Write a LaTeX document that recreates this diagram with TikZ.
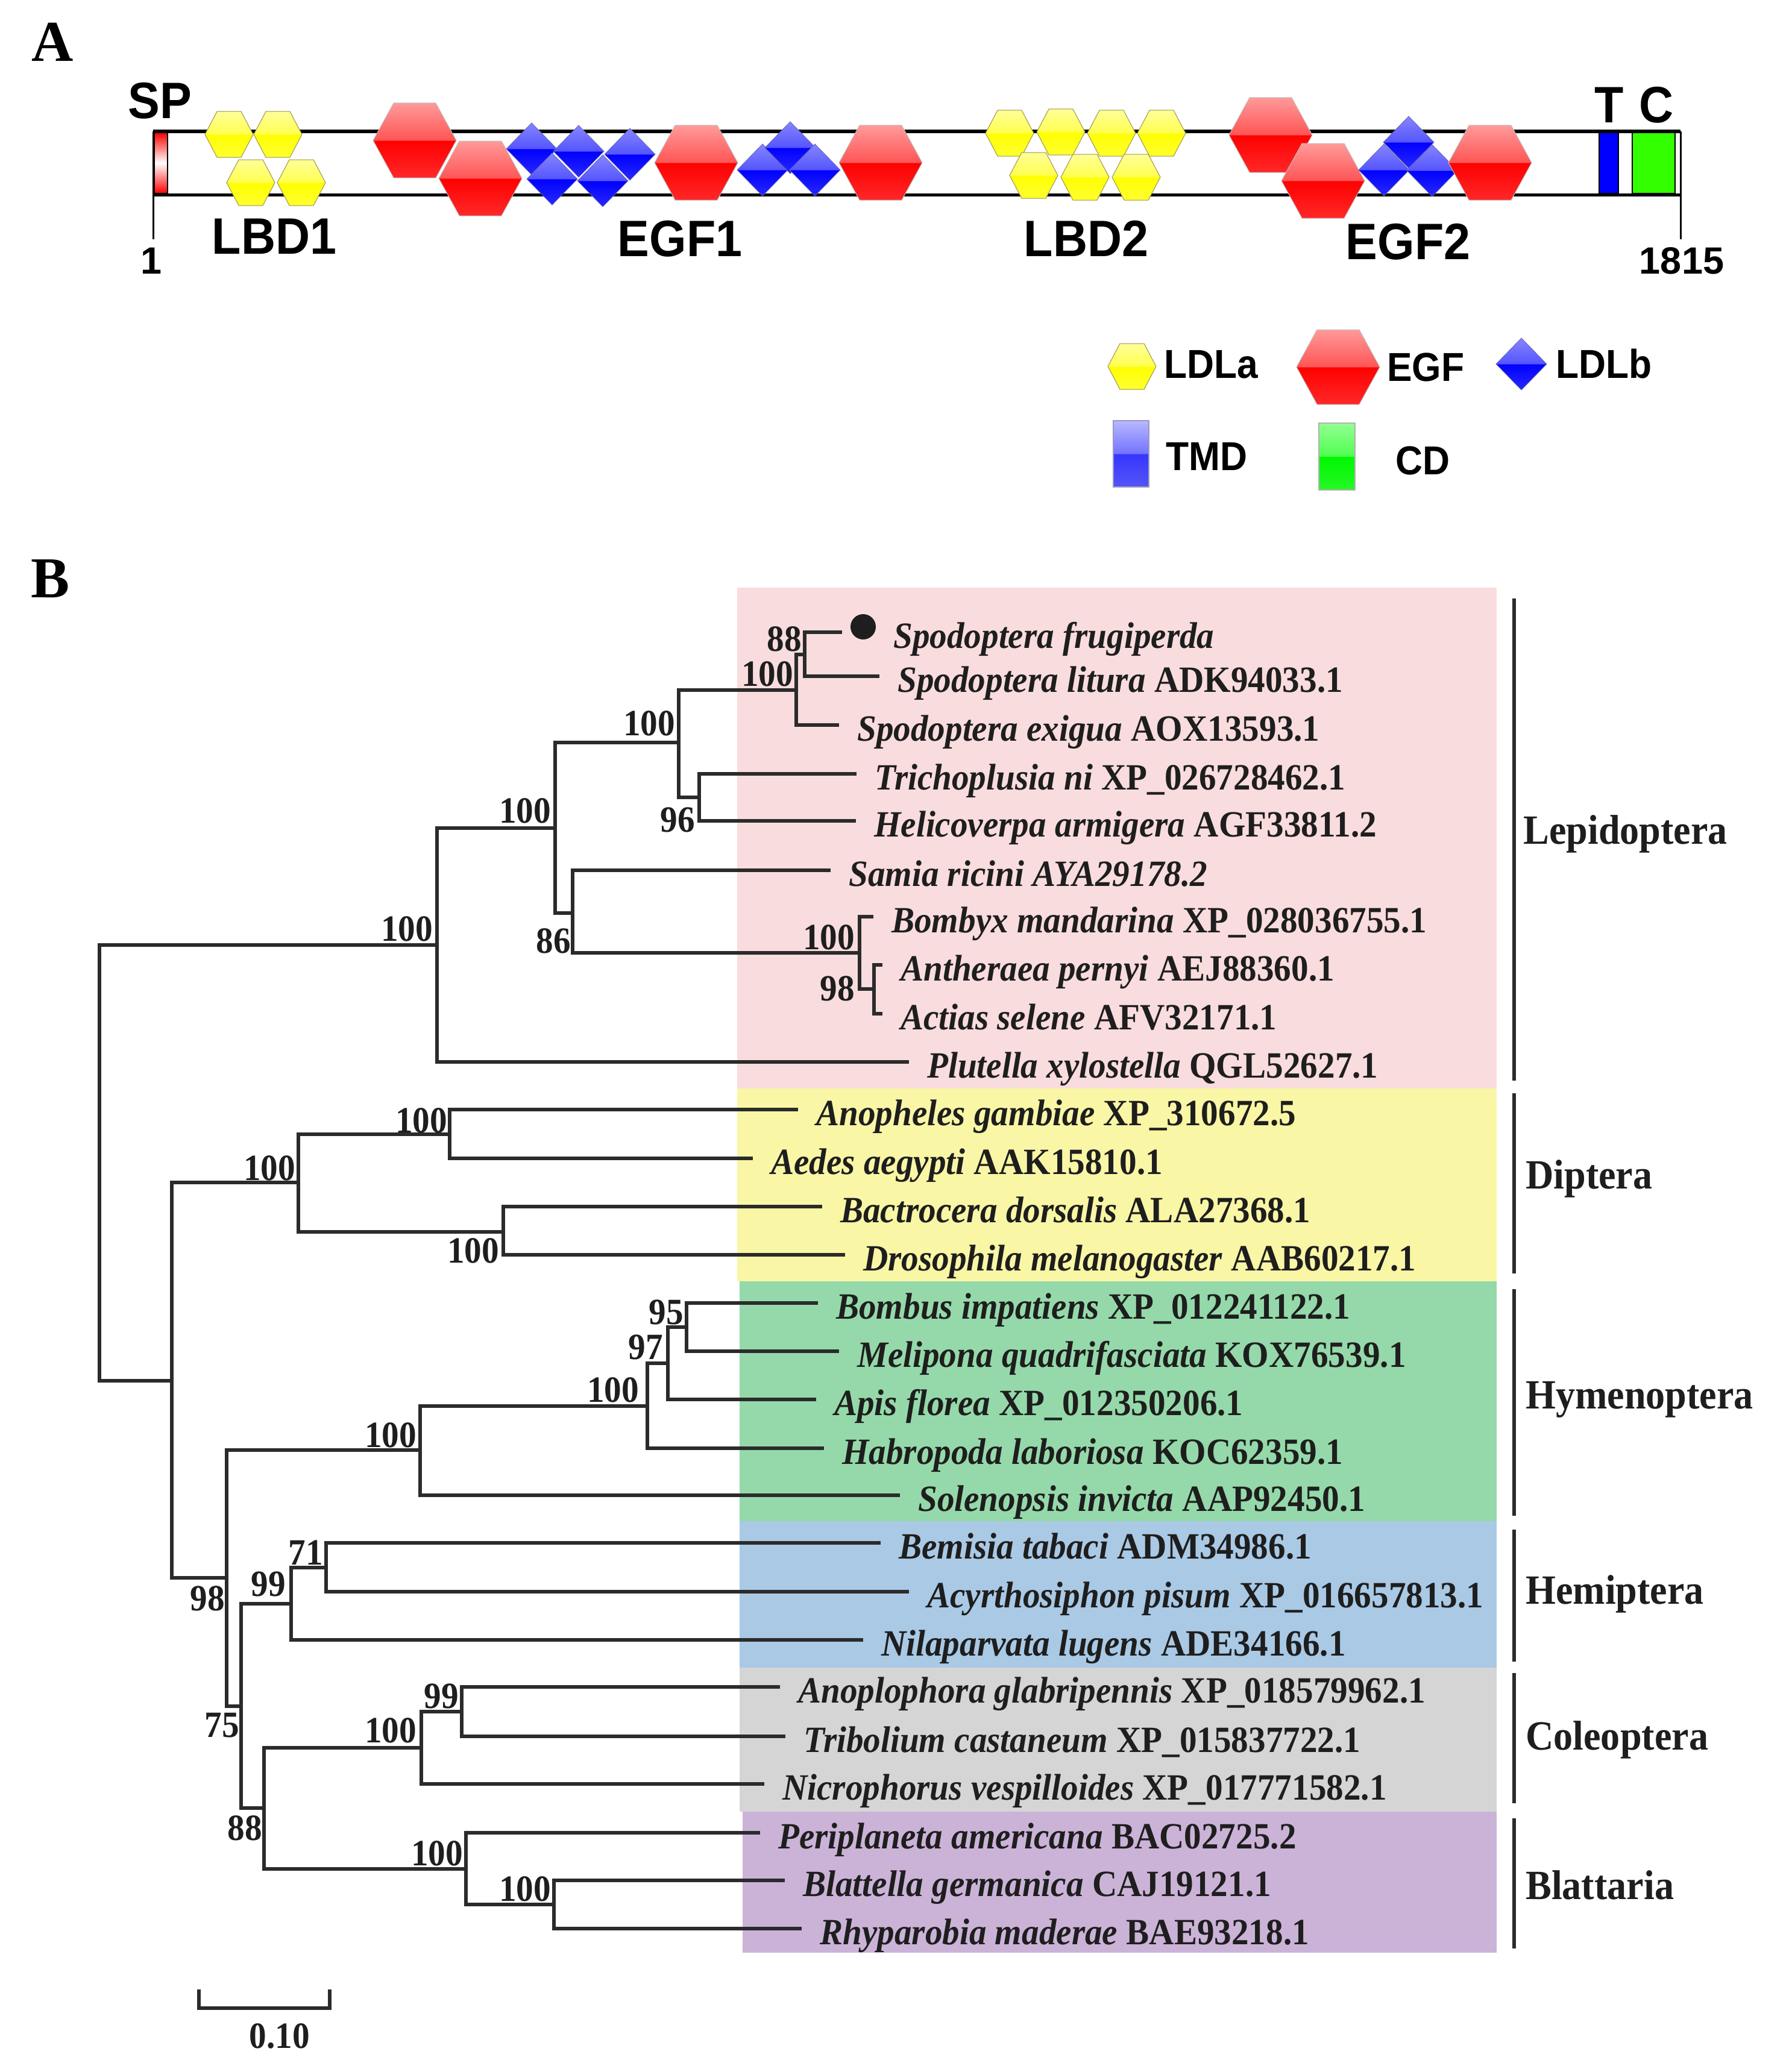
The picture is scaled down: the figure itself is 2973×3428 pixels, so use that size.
\documentclass[tikz,border=0pt]{standalone}
\usepackage{fontspec}
\setmainfont{Liberation Serif}
\newfontfamily\treefont[FakeStretch=0.93]{Liberation Serif}
\newfontfamily\sansb{Liberation Sans}
\newfontfamily\sansc[FakeStretch=0.93]{Liberation Sans}
\definecolor{lnc}{HTML}{2B2B2B}
\definecolor{txtc}{HTML}{1E1E1E}
\definecolor{bpink}{HTML}{F9DCDD}
\definecolor{byel}{HTML}{F9F6A5}
\definecolor{bgreen}{HTML}{95D9AA}
\definecolor{bblue}{HTML}{A9C9E5}
\definecolor{bgray}{HTML}{D5D5D5}
\definecolor{bpurp}{HTML}{CBB3D8}
\definecolor{yB}{HTML}{FFFF30}\definecolor{yM}{HTML}{FFFF00}\definecolor{yU}{HTML}{FFFF50}\definecolor{yT}{HTML}{FFFF99}
\definecolor{rB}{HTML}{FF2828}\definecolor{rM}{HTML}{FF0000}\definecolor{rU}{HTML}{FF5555}\definecolor{rT}{HTML}{FF9A9A}
\definecolor{uB}{HTML}{2828FF}\definecolor{uM}{HTML}{0000FF}\definecolor{uU}{HTML}{5555FF}\definecolor{uT}{HTML}{8585FF}
\definecolor{tB}{HTML}{5555F5}\definecolor{tM}{HTML}{3535FF}\definecolor{tU}{HTML}{7373FF}\definecolor{tT}{HTML}{B8B8FF}
\definecolor{gB}{HTML}{25F825}\definecolor{gM}{HTML}{00F800}\definecolor{gU}{HTML}{50FF50}\definecolor{gT}{HTML}{92FF92}
\definecolor{cdg}{HTML}{33FF00}
\pgfdeclareverticalshading{yelhex}{100bp}{color(0bp)=(yB); color(25bp)=(yB); color(49.9bp)=(yM); color(50.1bp)=(yU); color(75bp)=(yT); color(100bp)=(yT)}
\pgfdeclareverticalshading{redhex}{100bp}{color(0bp)=(rB); color(25bp)=(rB); color(49.9bp)=(rM); color(50.1bp)=(rU); color(75bp)=(rT); color(100bp)=(rT)}
\pgfdeclareverticalshading{bluedia}{100bp}{color(0bp)=(uB); color(25bp)=(uB); color(49.9bp)=(uM); color(50.1bp)=(uU); color(75bp)=(uT); color(100bp)=(uT)}
\pgfdeclareverticalshading{tmdbar}{100bp}{color(0bp)=(tB); color(25bp)=(tB); color(49.9bp)=(tM); color(50.1bp)=(tU); color(75bp)=(tT); color(100bp)=(tT)}
\pgfdeclareverticalshading{cdbar}{100bp}{color(0bp)=(gB); color(25bp)=(gB); color(49.9bp)=(gM); color(50.1bp)=(gU); color(75bp)=(gT); color(100bp)=(gT)}
\newcommand\leaffont{\treefont\fontsize{61.5}{64}\selectfont\bfseries}
\newcommand\grpfont{\treefont\fontsize{69}{72}\selectfont\bfseries}
\newcommand\sansA{\sansc\bfseries\fontsize{85}{88}\selectfont}
\newcommand\sansL{\sansc\bfseries\fontsize{67}{70}\selectfont}
\newcommand\sansN{\sansb\bfseries\fontsize{63}{66}\selectfont}
\newcommand\ldla[2]{\shade[shading=yelhex, draw=yellow!55!black, line width=1] (#1-40,#2) -- (#1-20,#2-38) -- (#1+20,#2-38) -- (#1+40,#2) -- (#1+20,#2+38) -- (#1-20,#2+38) -- cycle;}
\newcommand\egf[2]{\shade[shading=redhex, draw=black!25, line width=1] (#1-69,#2) -- (#1-35,#2-62) -- (#1+35,#2-62) -- (#1+69,#2) -- (#1+35,#2+62) -- (#1-35,#2+62) -- cycle;}
\newcommand\ldlb[2]{\shade[shading=bluedia, draw=blue!50!black!60, line width=0.8] (#1-42,#2) -- (#1,#2-43) -- (#1+42,#2) -- (#1,#2+43) -- cycle;}
\newcommand\inode[7]{\coordinate (#1) at (#3,#4); \draw[br] (#2) |- (#1); \node[boot] (#1b) at (#6,#7) {#5};}
\newcommand\leaf[5]{\coordinate (#1) at (#3,#4); \draw[br] (#2) |- (#1); \node[leaftext] (#1t) at (#3+30,#4+26) {#5};}
\tikzset{
  br/.style={draw=lnc, line width=5.3},
  brk/.style={draw=lnc, line width=5.3},
  boot/.style={font=\leaffont, text=txtc, inner sep=0, anchor=east},
  leaftext/.style={font=\leaffont, text=txtc, inner sep=0, anchor=base west},
  grp/.style={font=\grpfont, text=txtc, inner sep=0, anchor=base west},
  albl/.style={font=\sansA, text=black, inner sep=0},
  leg/.style={font=\sansL, text=black, inner sep=0, anchor=west}
}
\begin{document}
\begin{tikzpicture}[x=1pt, y=-1pt]
\useasboundingbox[fill=white] (0,0) rectangle (2973,3428);
% ---------------- Panel A ----------------
\node[font=\fontsize{96}{100}\selectfont\bfseries, inner sep=0] (lblA) at (87,70) {A};
\draw[line width=5] (254,218) -- (2788,218);
\draw[line width=5] (254,323) -- (2788,323);
\draw[line width=3] (254,218) -- (254,397);
\draw[line width=3] (2788,218) -- (2788,397);
\shade[top color=red, bottom color=red, middle color=white, draw=black, line width=2] (256,220) rectangle (278,321);
% LBD1
\ldla{380}{223}\ldla{461}{223}\ldla{416}{303}\ldla{500}{303}
% EGF1
\egf{688}{233}\egf{797}{296}
\ldlb{882}{247}\ldlb{960}{251}\ldlb{1045}{256}\ldlb{916}{297}\ldlb{1000}{300}
\egf{1155}{270}
\ldlb{1265}{282}\ldlb{1311}{245}\ldlb{1352}{282}
\egf{1461}{270}
% LBD2
\ldla{1675}{221}\ldla{1760}{219}\ldla{1844}{221}\ldla{1927}{221}
\ldla{1715}{291}\ldla{1800}{294}\ldla{1885}{294}
% EGF2
\egf{2108}{224}\egf{2195}{300}
\ldlb{2296}{282}\ldlb{2337}{236}\ldlb{2376}{283}
\egf{2472}{270}
% TMD, CD
\filldraw[fill=blue, draw=black, line width=2] (2653,220) rectangle (2685,321);
\filldraw[fill=cdg, draw=black, line width=2] (2708,220) rectangle (2779,321);
% labels
\node[albl] (lsp) at (265,167) {SP};
\node[albl] (llbd1) at (455,392) {LBD1};
\node[albl] (legf1) at (1128,396) {EGF1};
\node[albl] (llbd2) at (1802,396) {LBD2};
\node[albl] (legf2) at (2336,401) {EGF2};
\node[albl] (lt) at (2670,174) {T};
\node[albl] (lc) at (2748,174) {C};
\node[font=\sansN, inner sep=0] (lone) at (251,433) {1};
\node[font=\sansN, inner sep=0] (lend) at (2790,433) {1815};
% legend
\ldla{1878}{608}
\node[leg] (gldla) at (1931,605) {LDLa};
\egf{2220}{609}
\node[leg] (gegf) at (2301,609) {EGF};
\ldlb{2524}{604}
\node[leg] (gldlb) at (2581,604) {LDLb};
\shade[shading=tmdbar, draw=blue!40!black!40, line width=1.5] (1847,698) rectangle (1906,808);
\node[leg] (gtmd) at (1934,757) {TMD};
\shade[shading=cdbar, draw=black!30, line width=1.5] (2188,702) rectangle (2248,813);
\node[leg] (gcd) at (2315,764) {CD};
% ---------------- Panel B ----------------
\node[font=\fontsize{96}{100}\selectfont\bfseries, inner sep=0] (lblB) at (84,960) {B};
\fill[bpink] (1223,975) rectangle (2483,1806);
\fill[byel] (1223,1806) rectangle (2483,2126);
\fill[bgreen] (1227,2126) rectangle (2483,2524);
\fill[bblue] (1227,2524) rectangle (2483,2767);
\fill[bgray] (1227,2767) rectangle (2483,3006);
\fill[bpurp] (1232,3006) rectangle (2483,3240);
% tree
\coordinate (root) at (165,1929);
\inode{L}{root}{725}{1568}{100}{718}{1541}
\inode{L1}{L}{921}{1374}{100}{914}{1345}
\inode{L2}{L1}{1126}{1232}{100}{1120}{1200}
\inode{L3}{L2}{1321}{1145}{100}{1316}{1118}
\inode{L3a}{L3}{1335}{1086}{88}{1330}{1060}
\coordinate (sfru) at (1397,1049);
\draw[br] (L3a) |- (sfru);
\node[circle, fill=txtc, minimum size=42pt, inner sep=0] (dot) at (1432,1040) {};
\node[leaftext] (sfrut) at (1482,1075) {\textit{Spodoptera frugiperda}};
\leaf{slit}{L3a}{1459}{1122}{\textit{Spodoptera litura} ADK94033.1}
\leaf{sexi}{L3}{1392}{1203}{\textit{Spodoptera exigua} AOX13593.1}
\inode{L4}{L2}{1160}{1323}{96}{1153}{1360}
\leaf{tni}{L4}{1421}{1284}{\textit{Trichoplusia ni} XP\_026728462.1}
\leaf{harm}{L4}{1420}{1362}{\textit{Helicoverpa armigera} AGF33811.2}
\inode{L5}{L1}{950}{1515}{86}{947}{1561}
\leaf{sric}{L5}{1378}{1444}{\textit{Samia ricini AYA29178.2}}
\inode{L6}{L5}{1426}{1581}{100}{1418}{1555}
\leaf{bman}{L6}{1449}{1521}{\textit{Bombyx mandarina} XP\_028036755.1}
\inode{L7}{L6}{1450}{1641}{98}{1418}{1640}
\leaf{aper}{L7}{1464}{1601}{\textit{Antheraea pernyi} AEJ88360.1}
\leaf{asel}{L7}{1464}{1682}{\textit{Actias selene} AFV32171.1}
\leaf{pxyl}{L}{1508}{1762}{\textit{Plutella xylostella} QGL52627.1}
\coordinate (R) at (285,2291);
\draw[br] (root) |- (R);
\inode{D}{R}{495}{1962}{100}{490}{1938}
\inode{D1}{D}{746}{1882}{100}{742}{1859}
\leaf{agam}{D1}{1324}{1841}{\textit{Anopheles gambiae} XP\_310672.5}
\leaf{aaeg}{D1}{1249}{1922}{\textit{Aedes aegypti} AAK15810.1}
\inode{D2}{D}{835}{2044}{100}{828}{2075}
\leaf{bdor}{D2}{1364}{2002}{\textit{Bactrocera dorsalis} ALA27368.1}
\leaf{dmel}{D2}{1402}{2082}{\textit{Drosophila melanogaster} AAB60217.1}
\inode{H}{R}{376}{2618}{98}{373}{2652}
\inode{Y}{H}{697}{2406}{100}{691}{2381}
\inode{Y1}{Y}{1074}{2333}{100}{1060}{2306}
\inode{Y2}{Y1}{1108}{2262}{97}{1100}{2235}
\inode{Y3}{Y2}{1139}{2202}{95}{1134}{2177}
\leaf{bimp}{Y3}{1357}{2162}{\textit{Bombus impatiens} XP\_012241122.1}
\leaf{mqua}{Y3}{1392}{2242}{\textit{Melipona quadrifasciata} KOX76539.1}
\leaf{aflo}{Y2}{1354}{2322}{\textit{Apis florea} XP\_012350206.1}
\leaf{hlab}{Y1}{1367}{2403}{\textit{Habropoda laboriosa} KOC62359.1}
\leaf{sinv}{Y}{1493}{2481}{\textit{Solenopsis invicta} AAP92450.1}
\inode{N75}{H}{400}{2831}{75}{397}{2863}
\inode{E99}{N75}{483}{2661}{99}{474}{2628}
\inode{E71}{E99}{541}{2601}{71}{536}{2576}
\leaf{btab}{E71}{1461}{2560}{\textit{Bemisia tabaci} ADM34986.1}
\leaf{apis}{E71}{1508}{2641}{\textit{Acyrthosiphon pisum} XP\_016657813.1}
\leaf{nlug}{E99}{1432}{2721}{\textit{Nilaparvata lugens} ADE34166.1}
\inode{N88}{N75}{438}{3000}{88}{435}{3033}
\inode{C}{N88}{699}{2900}{100}{691}{2871}
\inode{C1}{C}{766}{2840}{99}{761}{2814}
\leaf{agla}{C1}{1294}{2799}{\textit{Anoplophora glabripennis} XP\_018579962.1}
\leaf{tcas}{C1}{1303}{2881}{\textit{Tribolium castaneum} XP\_015837722.1}
\leaf{nves}{C}{1268}{2960}{\textit{Nicrophorus vespilloides} XP\_017771582.1}
\inode{B}{N88}{773}{3101}{100}{768}{3075}
\leaf{pame}{B}{1261}{3041}{\textit{Periplaneta americana} BAC02725.2}
\inode{B1}{B}{919}{3160}{100}{914}{3134}
\leaf{bger}{B1}{1302}{3120}{\textit{Blattella germanica} CAJ19121.1}
\leaf{rmad}{B1}{1330}{3200}{\textit{Rhyparobia maderae} BAE93218.1}
% groups
\draw[brk] (2512,993) -- (2512,1793);
\node[grp] (glep) at (2527,1400) {Lepidoptera};
\draw[brk] (2512,1814) -- (2512,2113);
\node[grp] (gdip) at (2531,1972) {Diptera};
\draw[brk] (2512,2139) -- (2512,2515);
\node[grp] (ghym) at (2531,2337) {Hymenoptera};
\draw[brk] (2512,2538) -- (2512,2757);
\node[grp] (ghem) at (2531,2661) {Hemiptera};
\draw[brk] (2512,2776) -- (2512,2992);
\node[grp] (gcol) at (2531,2903) {Coleoptera};
\draw[brk] (2512,3017) -- (2512,3233);
\node[grp] (gbla) at (2531,3151) {Blattaria};
% scale bar
\draw[br] (330,3301) -- (330,3332) -- (547,3332) -- (547,3301);
\node[font=\leaffont, text=txtc, inner sep=0] (scl) at (464,3378) {0.10};
\end{tikzpicture}
\end{document}
